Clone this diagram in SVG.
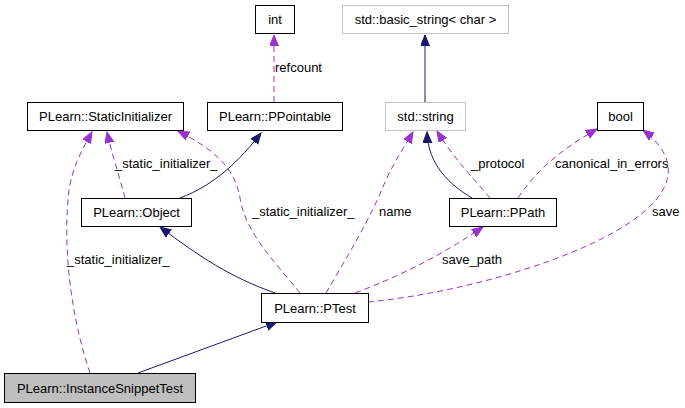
<svg xmlns="http://www.w3.org/2000/svg" width="685" height="408" viewBox="0 0 685 408">
<style>
text{font-family:"Liberation Sans",Arial,sans-serif;font-size:13px;fill:#000}
.n text{text-anchor:middle}
.box{fill:#fff;stroke:#000;stroke-width:1}
.gray{fill:#fff;stroke:#bfbfbf;stroke-width:1}
.e{fill:none;stroke:#191970;stroke-width:1}
.d{fill:none;stroke:#9a32cd;stroke-width:1;stroke-dasharray:6,4}
</style>
<defs>
<marker id="an" markerUnits="userSpaceOnUse" markerWidth="12" markerHeight="10" refX="11" refY="4.5" orient="auto"><path d="M0,0 L11,4.5 L0,9 z" fill="#191970" stroke="#191970"/></marker>
<marker id="ap" markerUnits="userSpaceOnUse" markerWidth="12" markerHeight="10" refX="11" refY="4.5" orient="auto"><path d="M0,0 L11,4.5 L0,9 z" fill="#9a32cd" stroke="#9a32cd"/></marker>
</defs>
<rect width="685" height="408" fill="#fff"/>
<g id="edges">
<path class="d" d="M274,102 L274,35" marker-end="url(#ap)"/>
<text x="275" y="72">refcount</text>
<path class="e" d="M425,102 L425,35" marker-end="url(#an)"/>
<path class="d" d="M125,198 C120,178 112,155 107,132" marker-end="url(#ap)"/>
<text x="115" y="168">_static_initializer_</text>
<path class="e" d="M180,198 C215,185 240,160 261,133" marker-end="url(#an)"/>
<path class="d" d="M90,373 C72,320 62,250 69,190 C73,165 83,148 92,132" marker-end="url(#ap)"/>
<text x="67" y="264">_static_initializer_</text>
<path class="d" d="M300,293 C275,262 245,232 240,198 C235,168 215,150 178,131" marker-end="url(#ap)"/>
<text x="252" y="216">_static_initializer_</text>
<path class="e" d="M275,293 C230,277 200,257 160,227" marker-end="url(#an)"/>
<path class="e" d="M138,373 L277,322" marker-end="url(#an)"/>
<path class="d" d="M326,293 C345,260 370,220 385,182 C395,160 405,146 413,132" marker-end="url(#ap)"/>
<text x="379" y="216">name</text>
<path class="e" d="M472,198 C450,185 428,165 427,132" marker-end="url(#an)"/>
<path class="d" d="M490,198 C475,180 455,160 437,131" marker-end="url(#ap)"/>
<text x="471" y="168">_protocol</text>
<path class="d" d="M518,198 C535,172 560,150 597,129" marker-end="url(#ap)"/>
<text x="555" y="168">canonical_in_errors</text>
<path class="d" d="M368,302 C470,292 590,255 640,215 C672,190 682,160 643,130" marker-end="url(#ap)"/>
<text x="652" y="216">save</text>
<path class="d" d="M355,293 C400,276 440,256 483,227" marker-end="url(#ap)"/>
<text x="442" y="264">save_path</text>
</g>
<g id="int" class="n"><rect class="box" x="255.5" y="5.5" width="39" height="28"/><text x="275" y="24">int</text></g>
<g id="basic_string" class="n"><rect class="gray" x="342.5" y="5.5" width="166" height="28"/><text x="425.5" y="24">std::basic_string&lt; char &gt;</text></g>
<g id="StaticInitializer" class="n"><rect class="box" x="27.5" y="102.5" width="156" height="28"/><text x="105.5" y="121">PLearn::StaticInitializer</text></g>
<g id="PPointable" class="n"><rect class="box" x="207.5" y="102.5" width="135" height="28"/><text x="275" y="121">PLearn::PPointable</text></g>
<g id="string" class="n"><rect class="gray" x="385.5" y="102.5" width="80" height="28"/><text x="425.5" y="121">std::string</text></g>
<g id="bool" class="n"><rect class="box" x="597.5" y="102.5" width="46" height="28"/><text x="620.5" y="121">bool</text></g>
<g id="Object" class="n"><rect class="box" x="81.5" y="198.5" width="110" height="28"/><text x="136.5" y="217">PLearn::Object</text></g>
<g id="PPath" class="n"><rect class="box" x="449.5" y="198.5" width="107" height="28"/><text x="503" y="217">PLearn::PPath</text></g>
<g id="PTest" class="n"><rect class="box" x="261.5" y="293.5" width="107" height="29"/><text x="315" y="312.5">PLearn::PTest</text></g>
<g id="InstanceSnippetTest" class="n"><rect x="4.5" y="373.5" width="191" height="29" fill="#bfbfbf" stroke="#000"/><text x="100" y="392.5">PLearn::InstanceSnippetTest</text></g>
</svg>
